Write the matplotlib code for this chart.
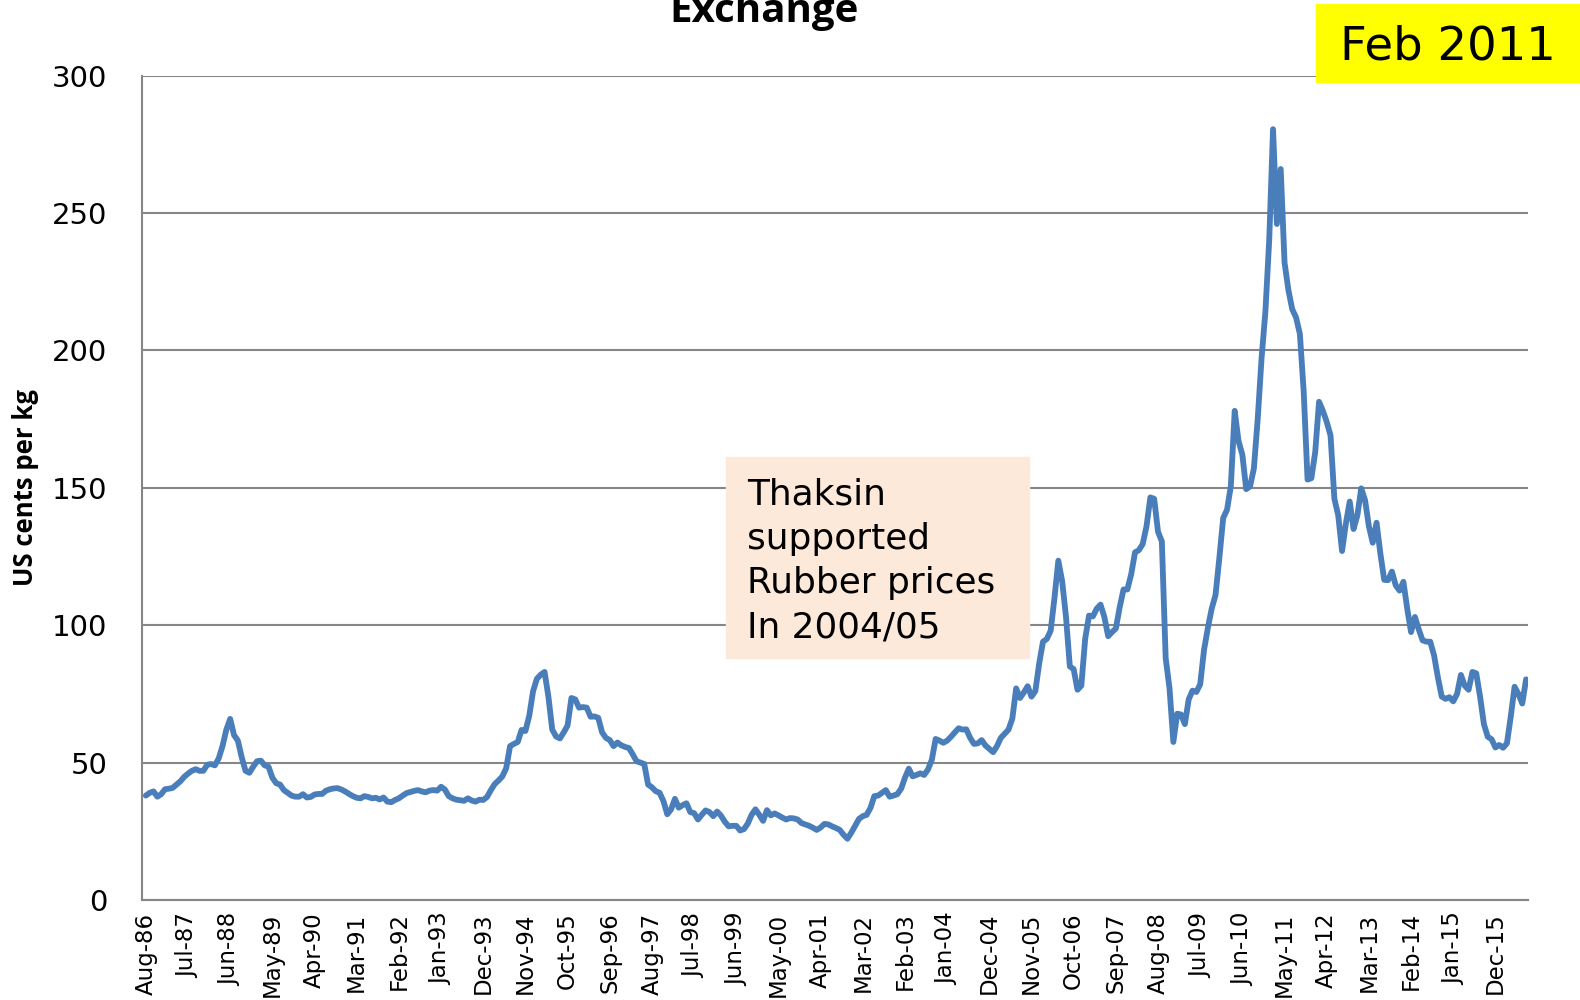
import numpy as np
import matplotlib
matplotlib.use("Agg")
import matplotlib.pyplot as plt
from matplotlib.patches import Rectangle

# monthly price, US cents per kg, Aug-86 .. Aug-16 (one row per 12 months)
price = [
    38, 39, 39.5, 37.6, 38.5, 40.3, 40.5, 40.8, 42, 43.2, 44.8, 46,
    47, 47.6, 47, 47, 49.2, 49.5, 49, 51.5, 56, 62, 65.9, 60,
    58, 52, 47, 46.3, 48.5, 50.5, 50.7, 49, 48.5, 44.5, 42.5, 42,
    40, 39, 38, 37.6, 37.6, 38.5, 37.3, 37.5, 38.4, 38.6, 38.6, 39.8,
    40.3, 40.6, 40.7, 40.2, 39.5, 38.6, 37.8, 37.2, 37, 37.8, 37.5, 37,
    37.2, 36.6, 37.3, 35.8, 35.6, 36.4, 37, 38, 38.9, 39.3, 39.7, 40,
    39.5, 39.2, 39.8, 40, 39.8, 41.2, 40.2, 37.8, 37, 36.5, 36.3, 36.1,
    37, 36.2, 35.8, 36.5, 36.4, 37.5, 40, 42.2, 43.5, 45, 48, 56,
    56.8, 57.5, 61.9, 61.5, 67, 76, 80.5, 82, 83, 74, 62, 59.5,
    58.8, 61, 63.5, 73.5, 73, 70, 70.2, 70, 66.7, 66.8, 66.3, 61,
    59, 58.2, 56, 57.3, 56.3, 55.7, 55.3, 53, 50.5, 50, 49.5, 42,
    41, 39.6, 39, 36, 31.2, 33, 36.8, 33.6, 34.5, 35.2, 32, 31.6,
    29.3, 31, 32.6, 32, 30.5, 32.2, 30.7, 28.5, 26.8, 27, 27, 25.3,
    25.8, 27.8, 31, 33, 31, 28.8, 32.7, 30.8, 31.5, 30.8, 30, 29.3,
    29.8, 29.7, 29.3, 28, 27.5, 27, 26.3, 25.5, 26.4, 27.7, 27.5, 26.8,
    26.2, 25.5, 23.7, 22.3, 24.5, 27, 29.5, 30.5, 31, 33.5, 37.8, 38,
    39, 40, 37.6, 38, 38.5, 40.5, 44.5, 47.8, 45, 45.5, 46.1, 45.5,
    47.5, 51, 58.6, 58, 57.2, 58, 59.4, 61, 62.5, 62, 62.1, 59,
    56.8, 57, 58.2, 56.2, 55, 53.8, 56, 59, 60.5, 62, 66, 77,
    73.5, 75.5, 77.8, 74, 76, 86, 94, 95, 98, 110, 123.5, 116,
    103, 85, 84, 76.5, 78, 95, 103.5, 103.2, 106, 107.5, 103, 96,
    97.5, 98.8, 106.5, 113, 113, 118.5, 126.5, 127.3, 129.5, 136, 146.5, 146,
    134, 130.5, 88, 77, 57.5, 67.8, 67.5, 64, 73, 76.2, 75.7, 78.5,
    91, 99, 106, 111, 124.5, 139, 142, 150.7, 178, 167, 162, 149.5,
    150.5, 157, 175, 197, 214, 240, 280.5, 246, 266, 232, 222, 215,
    212, 206, 185, 153, 153.5, 163, 181.3, 178, 174, 169, 146, 140,
    127, 137, 145, 135, 140, 149.8, 145.5, 136, 130, 137.3, 126, 116.5,
    116.4, 119.5, 114.5, 112.6, 115.8, 106, 97.5, 103, 98.5, 94.5, 94, 94,
    89, 81, 74, 73.2, 73.8, 72.3, 75, 81.9, 78, 76.5, 83, 82.5,
    74, 64, 59.4, 58.5, 55.5, 56.4, 55.4, 57, 66.7, 77.6, 75, 71.5,
    80.3,
]

# category labels shown on the axis (every 11th month)
tick_labels = [
    "Aug-86", "Jul-87", "Jun-88", "May-89", "Apr-90", "Mar-91", "Feb-92",
    "Jan-93", "Dec-93", "Nov-94", "Oct-95", "Sep-96", "Aug-97", "Jul-98",
    "Jun-99", "May-00", "Apr-01", "Mar-02", "Feb-03", "Jan-04", "Dec-04",
    "Nov-05", "Oct-06", "Sep-07", "Aug-08", "Jul-09", "Jun-10", "May-11",
    "Apr-12", "Mar-13", "Feb-14", "Jan-15", "Dec-15",
]
tick_step = 11
y_ticks = [0, 50, 100, 150, 200, 250, 300]

note_text = "Thaksin\nsupported\nRubber prices\nIn 2004/05"
stamp_text = "Feb 2011"

W, H = 1580, 1000
fig = plt.figure(figsize=(W / 100, H / 100), dpi=100)
ax = fig.add_axes([142 / W, 1 - 900 / H, (1528 - 142) / W, (900 - 75.6) / H])

x = np.arange(len(price))
ax.plot(x, price, color="#4A7EBB", lw=4.2, solid_joinstyle="round",
        solid_capstyle="round", zorder=3)

ax.set_xlim(-1, len(price) - 0.5)
ax.set_ylim(0, 300)
ax.set_yticks(y_ticks)
ax.set_yticklabels([str(v) for v in y_ticks], fontsize=21, family="DejaVu Sans")
ax.set_xticks(x[::tick_step])
ax.set_xticklabels(tick_labels, rotation=90, fontsize=16.5, family="DejaVu Sans",
                   ha="center", va="top")
ax.tick_params(axis="y", length=0, pad=25)
ax.tick_params(axis="x", length=0, pad=9)

ax.grid(axis="y", color="#868686", lw=1.5)
ax.set_axisbelow(True)
for side in ["top", "right"]:
    ax.spines[side].set_visible(False)
for side in ["left", "bottom"]:
    ax.spines[side].set_color("#868686")
    ax.spines[side].set_linewidth(1.5)

ax.set_ylabel("US cents per kg", fontsize=18.5, fontweight="bold",
              family="Open Sans", va="center")
ax.yaxis.set_label_coords(-(142 - 26) / (1528 - 142), 0.5)

# chart title (clipped at the top edge, as in the source)
fig.text(764 / W, 1 - 22 / H, "Exchange", ha="center", va="baseline",
         fontsize=29, fontweight="bold", family="Open Sans")

# yellow date stamp
fig.add_artist(Rectangle((1316 / W, 1 - 82 / H), (W - 1316) / W, 78 / H,
                         transform=fig.transFigure, color="#FFFF00", zorder=4))
fig.text(1448 / W, 1 - 60 / H, stamp_text, ha="center", va="baseline",
         fontsize=33.5, family="DejaVu Sans", zorder=5)

# annotation box
fig.add_artist(Rectangle((726 / W, 1 - 658 / H), (1029 - 726) / W, (658 - 457) / H,
                         transform=fig.transFigure, color="#FCE9DA", zorder=4))
fig.text(747 / W, 1 - 561 / H, note_text, ha="left", va="center",
         fontsize=25.8, family="DejaVu Sans", linespacing=1.38, zorder=5)

fig.savefig("out.png", dpi=100)
